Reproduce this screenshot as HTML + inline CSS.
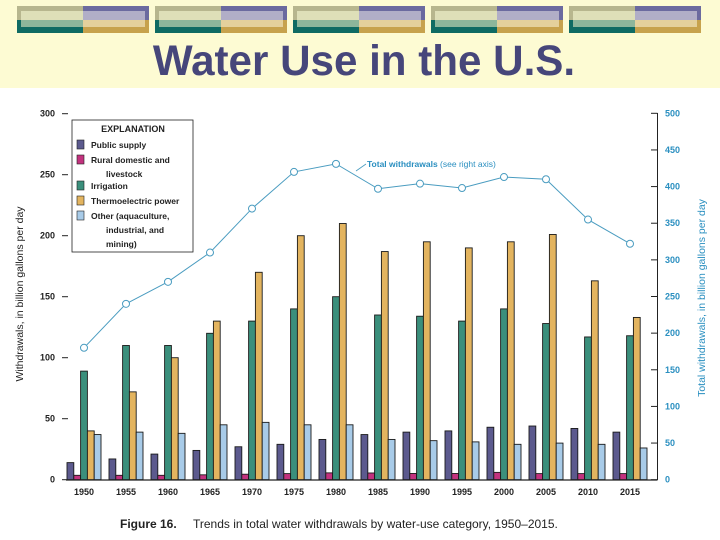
<!DOCTYPE html>
<html><head><meta charset="utf-8"><style>
body{margin:0;width:720px;height:540px;overflow:hidden;background:#fff;font-family:"Liberation Sans",sans-serif}
#hdr{position:absolute;left:0;top:0;width:720px;height:88px;background:#fdfbd3}
h1{position:absolute;left:0;top:37px;width:728px;margin:0;text-align:center;font-size:43px;font-weight:bold;color:#46467a;transform:scaleX(0.98)}
svg{position:absolute;left:0;top:0}
</style></head><body>
<div id="hdr"></div>
<h1>Water Use in the U.S.</h1>
<svg id="c" width="720" height="540"></svg>
<script>
const years=["1950","1955","1960","1965","1970","1975","1980","1985","1990","1995","2000","2005","2010","2015"];
const publicSupply=[14,17,21,24,27,29,33,37,39,40,43,44,42,39];
const rural=[3.6,3.6,3.6,4,4.5,5,5.6,5.5,5.1,5.1,6,5,5,5];
const irrigation=[89,110,110,120,130,140,150,135,134,130,140,128,117,118];
const thermo=[40,72,100,130,170,200,210,187,195,190,195,201,163,133];
const other=[37,39,38,45,47,45,45,33,32,31,29,30,29,26];
const total=[180,240,270,310,370,420,431,397,404,398,413,410,355,322];
const leftTicks=[0,50,100,150,200,250,300];
const rightTicks=[0,50,100,150,200,250,300,350,400,450,500];
const NS="http://www.w3.org/2000/svg";
const svg=document.getElementById('c');
function mk(t,a,p){const e=document.createElementNS(NS,t);for(const k in a)e.setAttribute(k,a[k]);(p||svg).appendChild(e);return e;}
const yL=v=>479.7-v*(366/300);
const yR=v=>479.7-v*(366.4/500);
const xC=i=>84+i*42;
for(let k=0;k<5;k++){
 const x0=17+k*138,w=66;
 const g=mk('g',{});
 
 
 mk('rect',{x:x0,y:6,width:w,height:14,fill:'#b7b68e'},g);
 mk('rect',{x:x0+4,y:11,width:w-4,height:9,fill:'#dedfb8'},g);
 mk('rect',{x:x0+w,y:6,width:w,height:14,fill:'#6b6a9f'},g);
 mk('rect',{x:x0+w,y:11,width:w-4,height:9,fill:'#b1aec7'},g);
 mk('rect',{x:x0,y:20,width:w,height:13,fill:'#0f6b63'},g);
 mk('rect',{x:x0+4,y:20,width:w-4,height:7,fill:'#8db69b'},g);
 mk('rect',{x:x0+w,y:20,width:w,height:13,fill:'#c7a24d'},g);
 mk('rect',{x:x0+w,y:20,width:w-4,height:7,fill:'#e4d09c'},g);
}
leftTicks.forEach(v=>{
 mk('line',{x1:62,x2:68,y1:yL(v),y2:yL(v),stroke:'#222','stroke-width':1});
 const t=mk('text',{x:55,y:yL(v)+3,'text-anchor':'end','font-size':9,'font-weight':'bold',fill:'#222'});
 t.textContent=v;
 
 
});
mk('line',{x1:657.5,x2:657.5,y1:113,y2:480,stroke:'#222','stroke-width':1});
rightTicks.forEach(v=>{
 mk('line',{x1:651,x2:657.5,y1:yR(v),y2:yR(v),stroke:'#222','stroke-width':1});
 const t=mk('text',{x:665,y:yR(v)+3,'font-size':9,'font-weight':'bold',fill:'#2a8fc0'});
 t.textContent=v;
 
 
});
const series=[publicSupply,rural,irrigation,thermo,other];
const cols=['#5c5a8e','#c2327e','#3b8f7c','#e3b45f','#a8cbe8'];
const bw=6.8;
years.forEach((y,i)=>{
 series.forEach((s,j)=>{
  const x=xC(i)-17+j*bw;
  const r=mk('rect',{x:x,y:yL(s[i]),width:bw,height:yL(0)-yL(s[i]),fill:cols[j],stroke:'#1a1a1a','stroke-width':0.9});
  
  
 });
 const t=mk('text',{x:xC(i),y:495,'text-anchor':'middle','font-size':9,'font-weight':'bold',fill:'#222'});
 t.textContent=y;
 
 
});
mk('line',{x1:66,x2:657.5,y1:480,y2:480,stroke:'#222','stroke-width':1.2});
const pts=total.map((v,i)=>xC(i)+','+yR(v)).join(' ');
const pl=mk('polyline',{points:pts,fill:'none',stroke:'#4a9cc0','stroke-width':1});


total.forEach((v,i)=>{
 const c=mk('circle',{cx:xC(i),cy:yR(v),r:3.5,fill:'#fff',stroke:'#4a9cc0','stroke-width':1});
 
 
});
mk('line',{x1:356,x2:366,y1:171,y2:164,stroke:'#4a9cc0','stroke-width':0.8});
const ann=mk('text',{x:367,y:167,'font-size':8.5,fill:'#2a8fc0'});
ann.innerHTML='<tspan font-weight="bold">Total withdrawals</tspan> (see right axis)';


const yt=mk('text',{transform:'translate(23,294) rotate(-90)','text-anchor':'middle','font-size':10.5,fill:'#222'});
yt.textContent='Withdrawals, in billion gallons per day';


const yt2=mk('text',{transform:'translate(705,298) rotate(-90)','text-anchor':'middle','font-size':10.5,fill:'#2a8fc0'});
yt2.textContent='Total withdrawals, in billion gallons per day';


const lg=mk('g',{});


mk('rect',{x:72,y:120,width:121,height:132,fill:'#fff',stroke:'#222','stroke-width':0.8},lg);
const lt=mk('text',{x:133,y:132,'text-anchor':'middle','font-size':9,'font-weight':'bold',fill:'#222'},lg);
lt.textContent='EXPLANATION';
const items=[['Public supply'],['Rural domestic and','livestock'],['Irrigation'],['Thermoelectric power'],['Other (aquaculture,','industrial, and','mining)']];
const iy=[147,162,188,203,218];
items.forEach((it,j)=>{
 const r=mk('rect',{x:77,y:iy[j]-7,width:7,height:9,fill:cols[j],stroke:'#222','stroke-width':0.6},lg);
 
 
 it.forEach((s,k)=>{
  const t=mk('text',{x:k?106:91,y:iy[j]+1+k*14,'font-size':8.5,'font-weight':'bold',fill:'#222'},lg);
  t.textContent=s;
  
  
 });
});
const cap=mk('text',{x:120,y:528,'font-size':12,fill:'#222'});
cap.innerHTML='<tspan font-weight="bold">Figure 16.</tspan><tspan x="193">Trends in total water withdrawals by water-use category, 1950–2015.</tspan>';


</script>
</body></html>
